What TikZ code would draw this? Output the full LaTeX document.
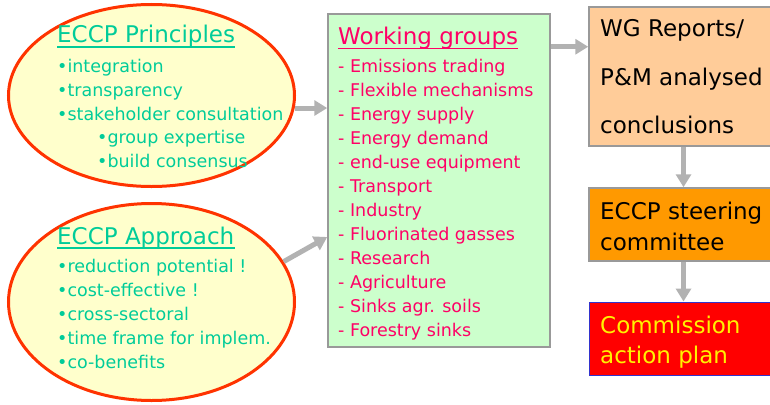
\documentclass[tikz,border=0pt]{standalone}
\usepackage{fontspec}
\setmainfont{DejaVu Sans}
\usetikzlibrary{shapes.geometric,arrows.meta}
\definecolor{ovalfill}{HTML}{FFFFCC}
\definecolor{ovalred}{HTML}{FF3300}
\definecolor{eccpgreen}{HTML}{00CC99}
\definecolor{wgfill}{HTML}{CCFFCC}
\definecolor{wgpink}{HTML}{FF0066}
\definecolor{boxgray}{HTML}{999999}
\definecolor{repfill}{HTML}{FFCC99}
\definecolor{steerfill}{HTML}{FF9900}
\definecolor{commblue}{HTML}{3333CC}
\definecolor{arrowgray}{HTML}{B2B2B2}
\begin{document}
\begin{tikzpicture}[x=1pt,y=-1pt,
  oval/.style={ellipse,draw=ovalred,line width=3pt,fill=ovalfill,inner sep=0pt},
  stepbox/.style={rectangle,draw=boxgray,line width=1.5pt,inner sep=0pt},
  title/.style={anchor=base west,inner sep=0pt,font=\fontsize{23}{26}\selectfont},
  item/.style={anchor=base west,inner sep=0pt,font=\fontsize{17.5}{20}\selectfont},
  boxtext/.style={anchor=base west,inner sep=0pt,font=\fontsize{23}{26}\selectfont},
  arrow/.style={-{Triangle[length=13pt,width=15pt]},draw=arrowgray,line width=5pt}]
\useasboundingbox (0,0) rectangle (770,404);
\clip (0,0) rectangle (770,404);
% ellipses on the left
\node[oval,minimum width=286pt,minimum height=182pt] (princ) at (151.5,95.5) {};
\node[oval,minimum width=286pt,minimum height=197pt] (appr) at (151.5,302) {};
\node[title,text=eccpgreen] (princtitle) at (57,43) {ECCP Principles};
\draw[eccpgreen,line width=1.3pt] ([yshift=-4pt]princtitle.base west) -- ([yshift=-4pt]princtitle.base east);
\node[item,text=eccpgreen] (p1) at (57,72) {•integration};
\node[item,text=eccpgreen] (p2) at (57,96) {•transparency};
\node[item,text=eccpgreen] (p3) at (57,120) {•stakeholder consultation};
\node[item,text=eccpgreen] (p4) at (97,143) {•group expertise};
\node[item,text=eccpgreen] (p5) at (97,167) {•build consensus};
\node[title,text=eccpgreen] (apprtitle) at (57,244) {ECCP Approach};
\draw[eccpgreen,line width=1.3pt] ([yshift=-4pt]apprtitle.base west) -- ([yshift=-4pt]apprtitle.base east);
\foreach \txt [count=\i] in {reduction potential !,cost-effective !,cross-sectoral,time frame for implem.,co-benefits}
  \node[item,text=eccpgreen] (a\i) at (57,{248+24*\i}) {•\txt};
% working groups
\node[stepbox,fill=wgfill,minimum width=222pt,minimum height=333pt] (wg) at (439,180.5) {};
\node[title,text=wgpink] (wgtitle) at (338,45) {Working groups};
\draw[wgpink,line width=1.3pt] ([yshift=-3.5pt]wgtitle.base west) -- ([yshift=-3.5pt]wgtitle.base east);
\foreach \txt [count=\i] in {Emissions trading,Flexible mechanisms,Energy supply,Energy demand,end-use equipment,Transport,Industry,Fluorinated gasses,Research,Agriculture,Sinks agr. soils,Forestry sinks}
  \node[item,text=wgpink] (wg\i) at (338,{48+24*\i}) {- \txt};
% boxes on the right
\node[stepbox,fill=repfill,minimum width=189pt,minimum height=139pt] (rep) at (683.5,76.5) {};
\node[boxtext] (rep1) at (600,37) {WG Reports/};
\node[boxtext] (rep2) at (600,85) {P\&M analysed};
\node[boxtext] (rep3) at (600,133) {conclusions};
\node[stepbox,fill=steerfill,minimum width=189pt,minimum height=73pt] (steer) at (683.5,224.5) {};
\node[boxtext] (steer1) at (600,219) {ECCP steering};
\node[boxtext] (steer2) at (600,250) {committee};
\node[stepbox,draw=commblue,line width=1pt,fill=red,minimum width=189pt,minimum height=73pt] (comm) at (683.5,338.5) {};
\node[boxtext,text=yellow] (comm1) at (600,333) {Commission};
\node[boxtext,text=yellow] (comm2) at (600,363) {action plan};
% arrows
\draw[arrow] (princ.-5) -- (princ.-5 -| wg.west);
\draw[arrow] (appr.17) -- ([yshift=-56.5pt]wg.west);
\coordinate (wgout) at ([yshift=-33.5pt]wg.north east);
\draw[arrow] (wgout) -- (wgout -| rep.west);
\draw[arrow] (rep) -- (steer);
\draw[arrow] (steer) -- (comm);
\end{tikzpicture}
\end{document}
